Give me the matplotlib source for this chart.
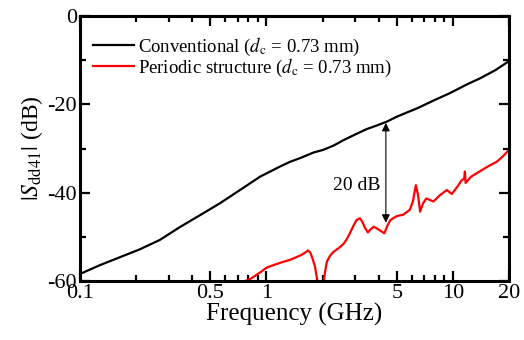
import matplotlib
matplotlib.use("Agg")
import matplotlib.pyplot as plt
from matplotlib.ticker import FixedLocator, NullFormatter

plt.rcParams['font.family'] = ['Liberation Serif', 'DejaVu Serif']
plt.rcParams['mathtext.fontset'] = 'stix'
plt.rcParams['axes.unicode_minus'] = False

# Conventional (black)
conv_f = [0.1, 0.128, 0.164, 0.21, 0.268, 0.343, 0.44, 0.563, 0.721, 0.922, 1.18, 1.34,
          1.51, 1.79, 2.02, 2.3, 2.59, 3.0, 3.45, 3.9, 4.43, 5.0, 5.7, 6.43, 8.0, 9.6,
          12.0, 14.0, 17.0, 20.0]
conv_db = [-58.4, -56.4, -54.6, -52.8, -50.7, -47.8, -45.1, -42.4, -39.4, -36.4, -34.1, -33.0,
           -32.2, -30.9, -30.3, -29.3, -28.1, -26.8, -25.6, -24.8, -23.9, -22.8, -21.8, -20.9,
           -19.0, -17.5, -15.4, -14.1, -12.2, -10.2]

# Periodic structure (red)
per_f = [0.77, 0.815, 0.922, 1.0, 1.09, 1.2, 1.34, 1.54, 1.62, 1.67, 1.72, 1.77, 1.82, 1.88,
         1.93, 1.98, 2.03, 2.07, 2.11, 2.2, 2.29, 2.45, 2.59, 2.7, 2.8, 2.92, 3.04, 3.17,
         3.27, 3.37, 3.5, 3.62, 3.76, 3.95, 4.15, 4.29, 4.45, 4.62, 5.0, 5.41, 5.87, 6.1,
         6.33, 6.5, 6.67, 6.9, 7.2, 7.86, 8.5, 9.28, 9.87, 10.5, 11.1, 11.5, 11.6, 11.7,
         12.5, 13.9, 15.5, 17.2, 18.5, 19.8, 20.0]
per_db = [-60.0, -59.6, -58.1, -57.0, -56.4, -55.8, -55.2, -54.1, -53.5, -53.1, -53.6, -55.0,
          -56.7, -60.2, -65.0, -65.0, -60.0, -57.5, -55.6, -54.2, -53.4, -52.5, -51.6, -50.5,
          -49.2, -47.6, -46.2, -45.8, -46.6, -47.9, -49.0, -48.3, -47.7, -48.2, -48.8, -49.2,
          -47.5, -46.2, -45.3, -45.0, -43.9, -42.0, -38.3, -40.5, -44.3, -42.5, -41.3, -42.0,
          -40.6, -39.4, -40.3, -38.8, -37.3, -36.8, -35.2, -37.8, -36.4, -35.2, -34.0, -33.0,
          -31.8, -30.5, -30.3]

xticks = [0.1, 0.5, 1, 5, 10, 20]
xtick_labels = ['0.1', '0.5', '1', '5', '10', '20']
yticks = [0, -20, -40, -60]

fig = plt.figure(figsize=(5.24, 3.40), dpi=100)
ax = fig.add_axes([0.1527, 0.1735, 0.8187, 0.7794])

ax.plot(conv_f, conv_db, color='black', lw=1.6,
        label=r'Conventional ($d_\mathrm{c}$ = 0.73 mm)')
ax.plot(per_f, per_db, color='red', lw=1.6,
        label=r'Periodic structure ($d_\mathrm{c}$ = 0.73 mm)')

ax.set_xscale('log')
ax.set_xlim(0.1, 20)
ax.set_ylim(-60, 0)

ax.xaxis.set_major_locator(FixedLocator(xticks))
ax.set_xticklabels(xtick_labels)
minor_x = [0.2, 0.3, 0.4, 0.6, 0.7, 0.8, 0.9, 2, 3, 4, 6, 7, 8, 9]
ax.xaxis.set_minor_locator(FixedLocator(minor_x))
ax.xaxis.set_minor_formatter(NullFormatter())
ax.set_yticks(yticks)
ax.set_yticks([-10, -30, -50], minor=True)

ax.tick_params(which='both', direction='in', top=True, right=True, width=1.6,
               labelsize=16, pad=2)
ax.tick_params(which='major', length=7)
ax.tick_params(which='minor', length=4)
for s in ax.spines.values():
    s.set_linewidth(2.2)

ax.set_xlabel('Frequency (GHz)', fontsize=18, labelpad=0)
ax.set_ylabel(r'$|S_{\mathrm{dd41}}|$ (dB)', fontsize=17, labelpad=2)

# 20 dB gap arrow
ax.annotate('', xy=(4.37, -46.8), xytext=(4.37, -24.2),
            arrowprops=dict(arrowstyle='<|-|>', color='black', lw=0.8,
                            mutation_scale=12, shrinkA=0, shrinkB=0))
ax.text(4.1, -38.3, '20 dB', fontsize=14, ha='right', va='center')

ax.legend(loc='upper left', frameon=False, fontsize=13.5, handlelength=2.2,
          handletextpad=0.2, labelspacing=-0.08, borderaxespad=0.3,
          bbox_to_anchor=(0.0, 0.975))

fig.savefig('out.png', dpi=100)
